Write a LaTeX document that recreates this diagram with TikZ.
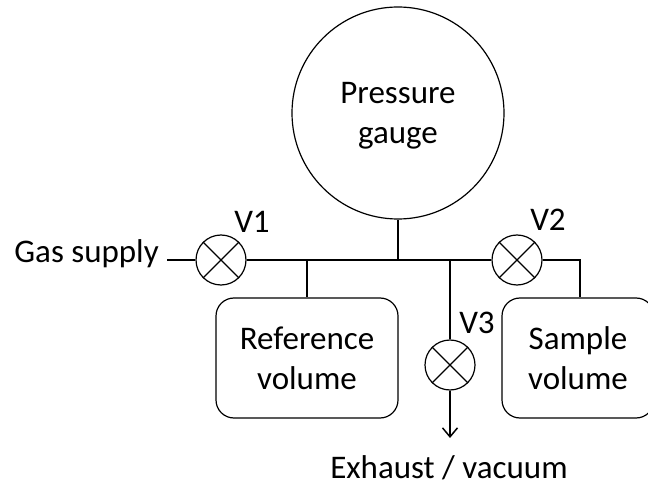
\documentclass[tikz,border=0pt]{standalone}
\usepackage{fontspec}
\setmainfont{Carlito}
\usepackage{xcolor}
\usepackage{tikz}
\usetikzlibrary{positioning}
\usetikzlibrary{arrows.meta}

\begin{document}
\begin{tikzpicture}[x=1pt, y=-1pt,
valvenode/.style={circle, draw=black, line width=1.2pt, minimum size=50pt, inner sep=0pt},
volnode/.style={draw=black, line width=1.2pt, rounded corners=18pt, align=center, font=\fontsize{33}{40}\selectfont},
labelnode/.style={inner sep=0pt, anchor=base, font=\fontsize{33}{40}\selectfont},
pipe/.style={line width=1.5pt},
cross/.style={line width=1.2pt}]
\useasboundingbox (0,0) rectangle (648,486);

\node[circle, draw=black, line width=1.2pt, minimum size=212pt, inner sep=0pt, align=center, font=\fontsize{33}{40}\selectfont] at (398, 113) (gauge) {\rule{0pt}{27pt}Pressure\\gauge};
\node[valvenode] at (221, 260) (v1) {};
\node[valvenode] at (517, 260) (v2) {};
\node[valvenode] at (450, 365) (v3) {};
\node[volnode, minimum width=182pt, minimum height=120pt] at (307, 358) (refvol) {Reference\\volume};
\node[volnode, minimum width=152pt, minimum height=120pt] at (578, 358) (samvol) {Sample\\volume};

\node[labelnode, anchor=base east] at (159, 263) (gas) {Gas supply};
\node[labelnode] at (252, 233) (v1lab) {V1};
\node[labelnode] at (548, 231) (v2lab) {V2};
\node[labelnode] at (477, 334) (v3lab) {V3};
\node[labelnode] at (449, 478) (exh) {Exhaust / vacuum};

\coordinate (gasend) at (167, 260);
\coordinate (jref) at (307, 260);
\coordinate (jgauge) at (398, 260);
\coordinate (jv3) at (450, 260);
\coordinate (jsam) at (580, 260);
\coordinate (exhend) at (450, 438);

\draw[pipe] (gasend) -- (v1);
\draw[pipe] (v1) -- (v2);
\draw[pipe] (v2) -- (jsam) -- (samvol.north -| jsam);
\draw[pipe] (jref) -- (refvol.north);
\draw[pipe] (jgauge) -- (gauge.south);
\draw[pipe] (jv3) -- (v3);
\draw[pipe, -{Straight Barb[length=9pt, width=15pt]}] (v3) -- (exhend);

\draw[cross] (v1.45) -- (v1.225);
\draw[cross] (v1.135) -- (v1.315);
\draw[cross] (v2.45) -- (v2.225);
\draw[cross] (v2.135) -- (v2.315);
\draw[cross] (v3.45) -- (v3.225);
\draw[cross] (v3.135) -- (v3.315);

\end{tikzpicture}
\end{document}
